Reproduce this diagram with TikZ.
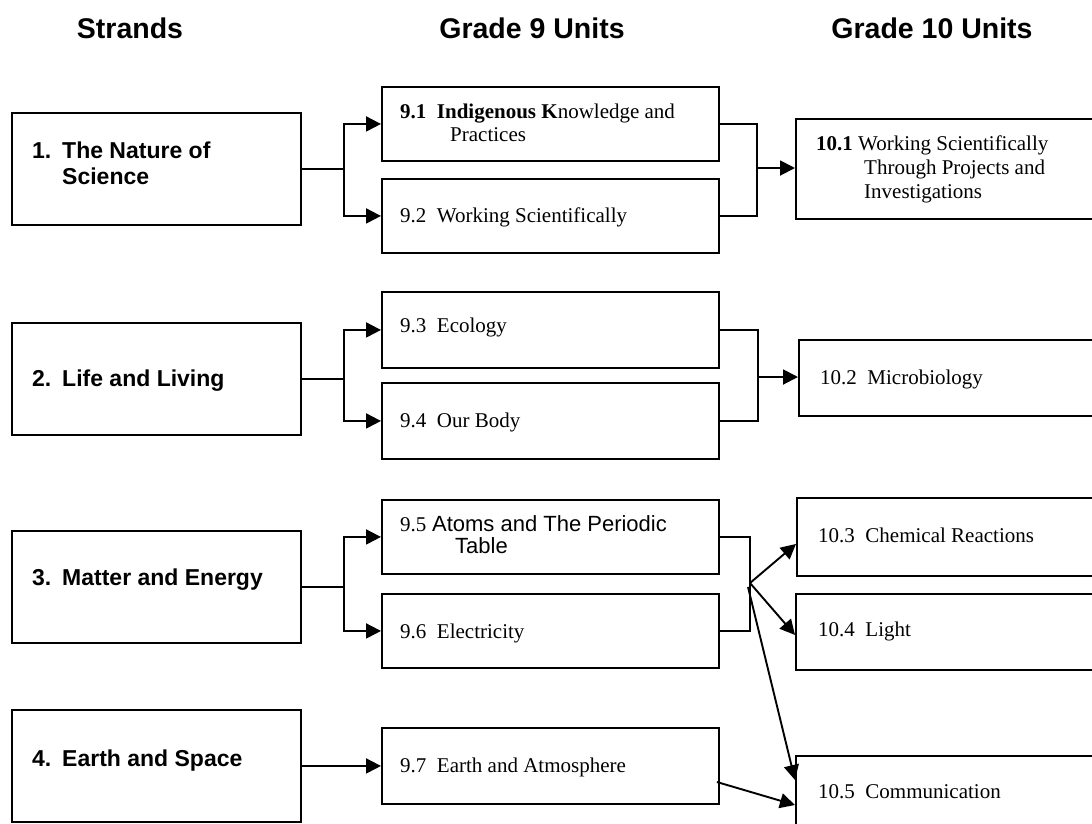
\documentclass[tikz,border=0pt]{standalone}
\usepackage{fontspec}
\setmainfont{Liberation Serif}
\newfontfamily\arial{Liberation Sans}
\usetikzlibrary{arrows.meta}
\begin{document}
\begin{tikzpicture}[x=1pt,y=-1pt,
  box/.style={draw, line width=1.9pt, inner sep=0pt, anchor=north west},
  conn/.style={line width=1.9pt},
  arr/.style={conn, -{Triangle[length=15pt 0, width=15pt 0]}},
  hdr/.style={font=\arial\bfseries\fontsize{28.5}{34}\selectfont, anchor=base, inner sep=0pt},
  strand/.style={font=\arial\bfseries\fontsize{23}{27}\selectfont, anchor=base west, inner sep=0pt},
  unit/.style={font=\fontsize{21}{24}\selectfont, anchor=base west, inner sep=0pt},
  usans/.style={font=\arial\fontsize{22}{26}\selectfont, anchor=base west, inner sep=0pt}]
\useasboundingbox (0,0) rectangle (1092,823);
\clip (0,0) rectangle (1092,823);
\fill[white] (0,0) rectangle (1092,823);

% headers
\node[hdr] (h1) at (130,38) {Strands};
\node[hdr] (h2) at (532,38) {Grade 9 Units};
\node[hdr] (h3) at (932,38) {Grade 10 Units};

% strand boxes
\node[box, minimum width=289pt, minimum height=112pt] (s1) at (11,112) {};
\node[box, minimum width=289pt, minimum height=112pt] (s2) at (11,322) {};
\node[box, minimum width=289pt, minimum height=112pt] (s3) at (11,530) {};
\node[box, minimum width=289pt, minimum height=112pt] (s4) at (11,709) {};
\node[strand] (s1a) at (32,158) {1.};
\node[strand] (s1b) at (62,158) {The Nature of};
\node[strand] (s1c) at (62,184) {Science};
\node[strand] (s2a) at (32,386) {2.};
\node[strand] (s2b) at (62,386) {Life and Living};
\node[strand] (s3a) at (32,585) {3.};
\node[strand] (s3b) at (62,585) {Matter and Energy};
\node[strand] (s4a) at (32,766) {4.};
\node[strand] (s4b) at (62,766) {Earth and Space};

% grade 9 boxes
\node[box, minimum width=337pt, minimum height=74pt] (u91) at (381,86) {};
\node[box, minimum width=337pt, minimum height=74pt] (u92) at (381,178) {};
\node[box, minimum width=337pt, minimum height=76pt] (u93) at (381,291) {};
\node[box, minimum width=337pt, minimum height=76pt] (u94) at (381,382) {};
\node[box, minimum width=337pt, minimum height=74pt] (u95) at (381,499) {};
\node[box, minimum width=337pt, minimum height=74pt] (u96) at (381,593) {};
\node[box, minimum width=337pt, minimum height=76pt] (u97) at (381,727) {};
\node[unit] (t91a) at (400,118) {\textbf{9.1\ \ Indigenous K}nowledge and};
\node[unit] (t91b) at (450,141) {Practices};
\node[unit] (t92) at (400,222) {9.2\ \ Working Scientifically};
\node[unit] (t93) at (400,332) {9.3\ \ Ecology};
\node[unit] (t94) at (400,427) {9.4\ \ Our Body};
\node[unit] (t95a) at (400,531) {9.5\ \ };
\node[usans, anchor=base west] (t95b) at (t95a.base east) {Atoms and The Periodic};
\node[usans] (t95c) at (455,553) {Table};
\node[unit] (t96) at (400,638) {9.6\ \ Electricity};
\node[unit] (t97) at (400,772) {9.7\ \ Earth and Atmosphere};

% grade 10 boxes
\node[box, minimum width=320pt, minimum height=100pt] (g1) at (795,118) {};
\node[box, minimum width=320pt, minimum height=76pt] (g2) at (798,339) {};
\node[box, minimum width=320pt, minimum height=78pt] (g3) at (796,497) {};
\node[box, minimum width=320pt, minimum height=76pt] (g4) at (795,593) {};
\node[box, minimum width=320pt, minimum height=100pt] (g5) at (795,755) {};
\node[unit] (x1a) at (816,150) {\textbf{10.1} Working Scientifically};
\node[unit] (x1b) at (864,174) {Through Projects and};
\node[unit] (x1c) at (864,198) {Investigations};
\node[unit] (x2) at (820,384) {10.2\ \ Microbiology};
\node[unit] (x3) at (818,542) {10.3\ \ Chemical Reactions};
\node[unit] (x4) at (818,636) {10.4\ \ Light};
\node[unit] (x5) at (818,798) {10.5\ \ Communication};

% right-side junctions
\coordinate (k1) at (757,168);
\coordinate (k2) at (758,377);
\coordinate (k3) at (750,583);
\coordinate (k3b) at (748,587);

% row 1
\draw[conn] (s1.east) -- ++(42,0) coordinate (j1);
\draw[arr] (j1) |- (u91.west);
\draw[arr] (j1) |- (u92.west);
\draw[conn] (u91.east) -| (k1) |- (u92.east);
\draw[arr] (k1) -- (k1 -| g1.west);

% row 2
\draw[conn] (s2.east) -- ++(42,0) coordinate (j2);
\draw[arr] (j2) |- (u93.west);
\draw[arr] (j2) |- (u94.west);
\draw[conn] (u93.east) -| (k2) |- (u94.east);
\draw[arr] (k2) -- (k2 -| g2.west);

% row 3
\draw[conn] (s3.east) -- ++(42,0) coordinate (j3);
\draw[arr] (j3) |- (u95.west);
\draw[arr] (j3) |- (u96.west);
\draw[conn] (u95.east) -| (k3) |- (u96.east);
\draw[arr] (k3) -- ([yshift=-7pt]g3.west);
\draw[arr] (k3) -- ([yshift=-3pt]g4.west);
\draw[arr] (k3b) -- ([yshift=-25pt]g5.north west);

% row 4
\draw[arr] (s4.east |- u97.west) -- (u97.west);
\draw[arr] ([yshift=-55pt,xshift=-3pt]u97.north east) -- ([yshift=-50pt]g5.north west);
\end{tikzpicture}
\end{document}
